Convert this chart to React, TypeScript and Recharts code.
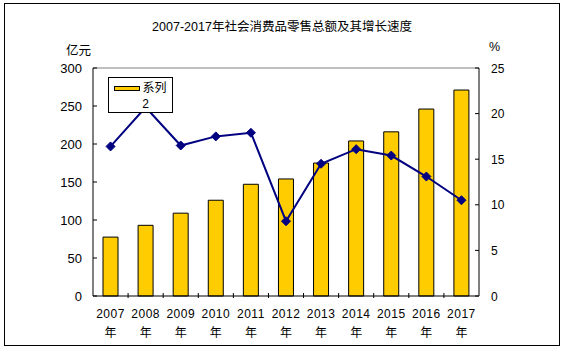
import { ComposedChart, Bar, Line, XAxis, YAxis, Legend, ReferenceLine } from "recharts";

const years = ["2007年", "2008年", "2009年", "2010年", "2011年", "2012年", "2013年", "2014年", "2015年", "2016年", "2017年"];
const retailTotal = [77.5, 93, 109, 126, 147, 154, 175, 204, 216, 246, 271];
const growthRate = [16.4, 20.7, 16.5, 17.5, 17.9, 8.2, 14.5, 16.1, 15.4, 13.1, 10.5];
const leftTicks = [0, 50, 100, 150, 200, 250, 300];
const rightTicks = [0, 5, 10, 15, 20, 25];

const data = years.map((year, i) => ({ year, total: retailTotal[i], rate: growthRate[i] }));

const W = 564;
const H = 351;
const M = { top: 68, right: 0, left: 0, bottom: 15 };
const LEFT_W = 93;
const RIGHT_W = 85;
const BAND = (W - LEFT_W - RIGHT_W) / years.length;
const FONT = '"Liberation Sans", Arial, "Noto Sans CJK SC", sans-serif';
const NAVY = "#000080";
const GOLD = "#FFCC00";

function LeftTick({ x, y, payload }: any) {
  return (
    <g>
      <line x1={x + 11} x2={x + 15} y1={y} y2={y} stroke="#000" />
      <text x={x} y={y} dy={4.5} textAnchor="end" fontSize={13} fontFamily={FONT} fill="#000">{payload.value}</text>
    </g>
  );
}

function RightTick({ x, y, payload }: any) {
  return (
    <g>
      <line x1={x - 16} x2={x - 12} y1={y} y2={y} stroke="#000" />
      <text x={x} y={y} dy={4.5} textAnchor="start" fontSize={12} fontFamily={FONT} fill="#000">{payload.value}</text>
    </g>
  );
}

function YearTick({ x, y, payload, index }: any) {
  const v = String(payload.value);
  return (
    <g>
      {index < years.length - 1 && (
        <line x1={x + BAND / 2} x2={x + BAND / 2} y1={y} y2={y - 5} stroke="#000" />
      )}
      <text x={x} y={y + 20} textAnchor="middle" fontSize={12} fontFamily={FONT} letterSpacing={0.5} fill="#000">{v.slice(0, 4)}</text>
      <text x={x} y={y + 38.5} textAnchor="middle" fontSize={12} fontFamily={FONT} fill="#000">{v.slice(4)}</text>
    </g>
  );
}

function Diamond({ cx, cy }: any) {
  if (cx == null || cy == null) return null;
  const r = 4.5;
  return <polygon points={`${cx},${cy - r} ${cx + r},${cy} ${cx},${cy + r} ${cx - r},${cy}`} fill={NAVY} stroke={NAVY} />;
}

function LegendBox() {
  return (
    <div style={{
      width: 65, height: 36, boxSizing: "border-box", border: "1px solid #000", background: "#fff",
      fontFamily: FONT, fontSize: 12, lineHeight: "16px", textAlign: "center", paddingTop: 2, color: "#000",
    }}>
      <div style={{ whiteSpace: "nowrap" }}>
        <span style={{ display: "inline-block", width: 26, height: 5, background: GOLD, border: "1px solid #000", boxSizing: "border-box", verticalAlign: "middle", marginRight: 2 }} />
        系列
      </div>
      <div style={{ paddingLeft: 10 }}>2</div>
    </div>
  );
}

export default function App() {
  return (
    <div style={{ position: "relative", width: W, height: H, background: "#fff" }}>
      <style>{`body{margin:0}`}</style>
      <div style={{ position: "absolute", left: 4, top: 3, width: 556, height: 343, border: "1px solid #000", boxSizing: "border-box" }} />
      <div style={{ position: "absolute", left: 0, width: W, top: 16, textAlign: "center", fontFamily: FONT, fontSize: 12.5, color: "#000" }}>
        2007-2017年社会消费品零售总额及其增长速度
      </div>
      <div style={{ position: "absolute", left: 66, top: 40, fontFamily: FONT, fontSize: 12.5, color: "#000" }}>亿元</div>
      <div style={{ position: "absolute", left: 489, top: 40, fontFamily: FONT, fontSize: 12.5, color: "#000" }}>%</div>
      <ComposedChart width={W} height={H} data={data} margin={M} style={{ position: "absolute", left: 0, top: 0 }}>
        <XAxis dataKey="year" height={40} tickSize={0} tickLine={false} tick={<YearTick />} axisLine={{ stroke: "#000" }} interval={0} />
        <YAxis yAxisId="left" domain={[0, 300]} ticks={leftTicks} width={LEFT_W} tickSize={0} tickMargin={11} tickLine={false} tick={<LeftTick />} axisLine={{ stroke: "#000" }} />
        <YAxis yAxisId="right" orientation="right" domain={[0, 25]} ticks={rightTicks} width={RIGHT_W} tickSize={0} tickMargin={12} tickLine={false} tick={<RightTick />} axisLine={{ stroke: "#000" }} />
        <ReferenceLine yAxisId="left" y={300} stroke="#808080" />
        <Bar yAxisId="left" dataKey="total" name="系列2" fill={GOLD} stroke="#000" strokeWidth={1} barSize={15} isAnimationActive={false} />
        <Line yAxisId="right" dataKey="rate" type="linear" stroke={NAVY} strokeWidth={2} dot={<Diamond />} activeDot={false} isAnimationActive={false} legendType="none" />
        <Legend content={<LegendBox />} layout="horizontal" verticalAlign="middle" align="center" wrapperStyle={{ position: "absolute", left: 108, top: 77, width: 65, zIndex: 10 }} />
      </ComposedChart>
    </div>
  );
}
